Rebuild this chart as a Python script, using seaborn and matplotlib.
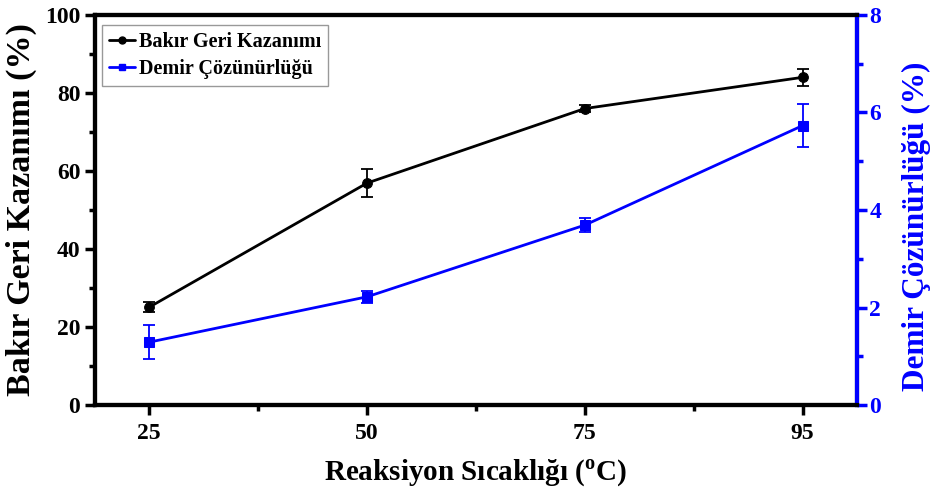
import numpy as np
import pandas as pd
import matplotlib
matplotlib.use("Agg")
import matplotlib.pyplot as plt
import seaborn as sns
from matplotlib.ticker import MultipleLocator, FixedLocator
from matplotlib.lines import Line2D

temps = ["25", "50", "75", "95"]
copper = [25.1, 56.9, 76.0, 84.0]
copper_err = [1.3, 3.6, 0.8, 2.2]
iron = [1.29, 2.22, 3.69, 5.73]
iron_err = [0.35, 0.12, 0.14, 0.44]

sns.set_theme(style="white")
plt.rcParams['font.family'] = ['Liberation Serif', 'DejaVu Serif']
plt.rcParams['font.weight'] = 'bold'
plt.rcParams['text.color'] = 'black'
plt.rcParams['axes.labelcolor'] = 'black'
plt.rcParams['xtick.color'] = 'black'
plt.rcParams['ytick.color'] = 'black'
plt.rcParams['mathtext.fontset'] = 'custom'
plt.rcParams['mathtext.rm'] = 'Liberation Serif:bold'
plt.rcParams['mathtext.bf'] = 'Liberation Serif:bold'

pos = np.arange(len(temps))
df = pd.DataFrame({"pos": pos, "copper": copper, "iron": iron})

fig = plt.figure(figsize=(9.3, 4.97), dpi=100)
ax = fig.add_axes([0.102, 0.185, 0.8195, 0.785])
ax2 = ax.twinx()

sns.lineplot(data=df, x="pos", y="copper", ax=ax, color="black", marker="o",
             markersize=7, linewidth=2, markeredgecolor="black")
ax.errorbar(pos, copper, yerr=copper_err, fmt="none", ecolor="black",
            elinewidth=1.3, capsize=4, capthick=1.3)
sns.lineplot(data=df, x="pos", y="iron", ax=ax2, color="blue", marker="s",
             markersize=6.5, linewidth=2, markeredgecolor="blue")
ax2.errorbar(pos, iron, yerr=iron_err, fmt="none", ecolor="blue",
             elinewidth=1.3, capsize=4, capthick=1.3)

ax.set_xlim(-0.25, 3.25)
ax.set_ylim(0, 100)
ax2.set_ylim(0, 8)
ax.set_xticks(pos)
ax.set_xticklabels(temps)
ax.xaxis.set_minor_locator(FixedLocator([0.5, 1.5, 2.5]))
ax.yaxis.set_major_locator(MultipleLocator(20))
ax.yaxis.set_minor_locator(MultipleLocator(10))
ax2.yaxis.set_major_locator(MultipleLocator(2))
ax2.yaxis.set_minor_locator(MultipleLocator(1))

for sp in ax.spines.values():
    sp.set_linewidth(3)
    sp.set_color("black")
for sp in ax2.spines.values():
    sp.set_linewidth(3)
    sp.set_color("black")
ax2.spines["right"].set_color("blue")

ax.tick_params(axis="both", which="major", direction="out", length=7, width=2.5,
               labelsize=17, colors="black", left=True, bottom=True)
ax.tick_params(axis="x", which="major", pad=6)
ax.tick_params(axis="both", which="minor", direction="out", length=4, width=2.5,
               left=True, bottom=True)
ax2.tick_params(axis="y", which="major", direction="out", length=7, width=2.5,
                labelsize=17, colors="blue", right=True, pad=2)
ax2.tick_params(axis="y", which="minor", direction="out", length=4, width=2.5,
                colors="blue", right=True)
for lab in ax.get_xticklabels() + ax.get_yticklabels() + ax2.get_yticklabels():
    lab.set_fontweight("bold")

ax.set_xlabel(r"Reaksiyon Sıcaklığı ($^{\mathbf{o}}$C)", fontsize=21,
              fontweight="bold", labelpad=10)
ax.set_ylabel("Bakır Geri Kazanımı (%)", fontsize=24.5, fontweight="bold",
              labelpad=6)
ax2.set_ylabel("Demir Çözünürlüğü (%)", fontsize=22.5, fontweight="bold",
               color="blue", labelpad=15)
ax2.yaxis.label.set_y(0.459)

handles = [Line2D([0], [0], color="black", marker="o", markersize=5, linewidth=2),
           Line2D([0], [0], color="blue", marker="s", markersize=4.5, linewidth=2)]
leg = ax.legend(handles, ["Bakır Geri Kazanımı", "Demir Çözünürlüğü"],
                loc="upper left", bbox_to_anchor=(0.009, 0.975), borderaxespad=0,
                frameon=True, fancybox=False, edgecolor="gray", handlelength=1.3,
                handletextpad=0.2, borderpad=0.35, labelspacing=0.35,
                prop={"family": "Liberation Serif", "weight": "bold", "size": 14.5})
leg.get_frame().set_linewidth(1)

fig.savefig("out.png", dpi=100)
